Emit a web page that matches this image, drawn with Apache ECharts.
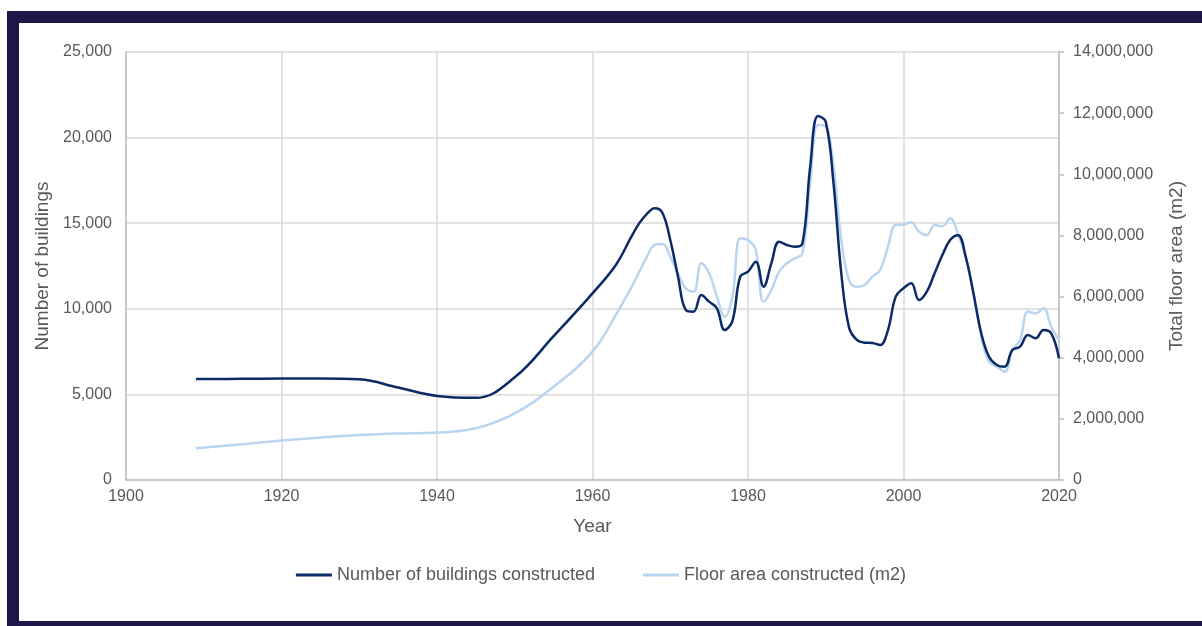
<!DOCTYPE html>
<html>
<head>
<meta charset="utf-8">
<title>Buildings constructed</title>
<script src="https://cdn.jsdelivr.net/npm/echarts@6/dist/echarts.min.js"></script>
<style>
  html, body { margin: 0; padding: 0; background: #ffffff; }
  #wrap { position: relative; width: 1202px; height: 626px; overflow: hidden; }
  /* navy frame around the chart */
  .bar { position: absolute; background: #1e1548; }
  #chart { position: absolute; left: 0; top: 0; width: 1202px; height: 626px; }
</style>
</head>
<body>
<div id="wrap">
  <div class="bar" style="left:7px;top:11px;width:1195px;height:12px;"></div>
  <div class="bar" style="left:7px;top:11px;width:12px;height:615px;"></div>
  <div class="bar" style="left:7px;top:621px;width:1195px;height:5px;"></div>
  <div id="chart"></div>
</div>
<script>
// years with a reading (sparse before 1966, yearly after)
var years = [1909, 1915, 1920, 1925, 1930, 1935, 1940, 1945, 1950, 1955, 1960, 1963, 1965,
  1966, 1967, 1968, 1969, 1970, 1971, 1972, 1973, 1974, 1975, 1976, 1977, 1978, 1979,
  1980, 1981, 1982, 1983, 1984, 1985, 1986, 1987, 1988, 1989, 1990, 1991, 1992, 1993,
  1994, 1995, 1996, 1997, 1998, 1999, 2000, 2001, 2002, 2003, 2004, 2005, 2006, 2007,
  2008, 2009, 2010, 2011, 2012, 2013, 2014, 2015, 2016, 2017, 2018, 2019, 2020];

// number of buildings constructed (left axis)
var buildings = [5900, 5910, 5930, 5930, 5880, 5400, 4910, 4800, 6000, 8400, 10900, 12560, 14210,
  14990, 15550, 15870, 15600, 14020, 11875, 9930, 9830, 10806, 10420, 10030, 8760, 9300, 11875,
  12170, 12750, 11290, 12650, 13920, 13730, 13630, 13820, 18300, 21260, 20930, 17330, 12070, 8900,
  8180, 8020, 8000, 7885, 8760, 10710, 11200, 11490, 10510, 11000, 12070, 13140, 14020, 14300,
  13040, 10900, 8570, 7200, 6720, 6620, 7590, 7790, 8470, 8280, 8760, 8570, 7110];

// floor area constructed, m2 (right axis)
var floorArea = [1040000, 1170000, 1290000, 1390000, 1470000, 1520000, 1550000, 1690000, 2180000, 3050000, 4200000, 5400000, 6300000,
  6800000, 7300000, 7690000, 7720000, 7300000, 6760000, 6270000, 6160000, 7090000, 6760000, 6000000, 5340000, 6000000, 7910000,
  7850000, 7520000, 5830000, 6210000, 6810000, 7090000, 7250000, 7410000, 9700000, 11610000, 11560000, 10250000, 7850000, 6540000,
  6320000, 6380000, 6650000, 6870000, 7630000, 8340000, 8350000, 8430000, 8120000, 8010000, 8340000, 8300000, 8560000, 8070000,
  7300000, 6110000, 4690000, 3870000, 3710000, 3540000, 4250000, 4580000, 5510000, 5450000, 5620000, 5010000, 4580000];

var seriesNames = ["Number of buildings constructed", "Floor area constructed (m2)"];

function pairs(vals) {
  return years.map(function (y, i) { return [y, vals[i]]; });
}

function thousands(v) { return v.toLocaleString("en-US"); }

var chart = echarts.init(document.getElementById("chart"), null, { renderer: "canvas" });
var grey = "#595959";
var fontFamily = "'Liberation Sans', Arial, sans-serif";

chart.setOption({
  animation: false,
  backgroundColor: "transparent",
  textStyle: { fontFamily: fontFamily },
  grid: { left: 126, right: 143, top: 52, bottom: 146 },
  legend: {
    data: seriesNames,
    bottom: 37,
    left: "center",
    icon: "rect",
    itemWidth: 36,
    itemHeight: 3,
    itemGap: 48,
    textStyle: { color: grey, fontSize: 18, fontFamily: fontFamily }
  },
  xAxis: {
    type: "value",
    min: 1900,
    max: 2020,
    interval: 20,
    name: "Year",
    nameLocation: "middle",
    nameGap: 37,
    nameTextStyle: { color: grey, fontSize: 19 },
    axisLine: { show: true, lineStyle: { color: "#bfbfbf", width: 1.5 } },
    axisTick: { show: false },
    axisLabel: { color: grey, fontSize: 16, margin: 9, formatter: function (v) { return String(v); } },
    splitLine: { show: true, lineStyle: { color: "#d9d9d9", width: 1.5 } }
  },
  yAxis: [
    {
      type: "value",
      min: 0,
      max: 25000,
      interval: 5000,
      name: "Number of buildings",
      nameLocation: "middle",
      nameGap: 68,
      nameTextStyle: { color: grey, fontSize: 19 },
      axisLine: { show: true, lineStyle: { color: "#bfbfbf", width: 1.5 } },
      axisTick: { show: false },
      axisLabel: { color: grey, fontSize: 16, margin: 14, formatter: thousands },
      splitLine: { show: true, lineStyle: { color: "#d9d9d9", width: 1.5 } }
    },
    {
      type: "value",
      min: 0,
      max: 14000000,
      interval: 2000000,
      name: "Total floor area (m2)",
      nameLocation: "middle",
      nameGap: 108,
      nameTextStyle: { color: grey, fontSize: 19 },
      axisLine: { show: true, lineStyle: { color: "#bfbfbf", width: 1.5 } },
      axisTick: { show: true, length: 5, lineStyle: { color: "#bfbfbf", width: 1.5 } },
      axisLabel: { color: grey, fontSize: 16, margin: 14, formatter: thousands },
      splitLine: { show: false }
    }
  ],
  series: [
    {
      name: seriesNames[1],
      type: "line",
      yAxisIndex: 1,
      data: pairs(floorArea),
      smooth: 0.4,
      showSymbol: false,
      color: "#bad5ef",
      lineStyle: { color: "#bad5ef", width: 2.5 },
      z: 2
    },
    {
      name: seriesNames[0],
      type: "line",
      yAxisIndex: 0,
      data: pairs(buildings),
      smooth: 0.4,
      showSymbol: false,
      color: "#0c2a66",
      lineStyle: { color: "#0c2a66", width: 2.5 },
      z: 3
    }
  ]
});
</script>
</body>
</html>
